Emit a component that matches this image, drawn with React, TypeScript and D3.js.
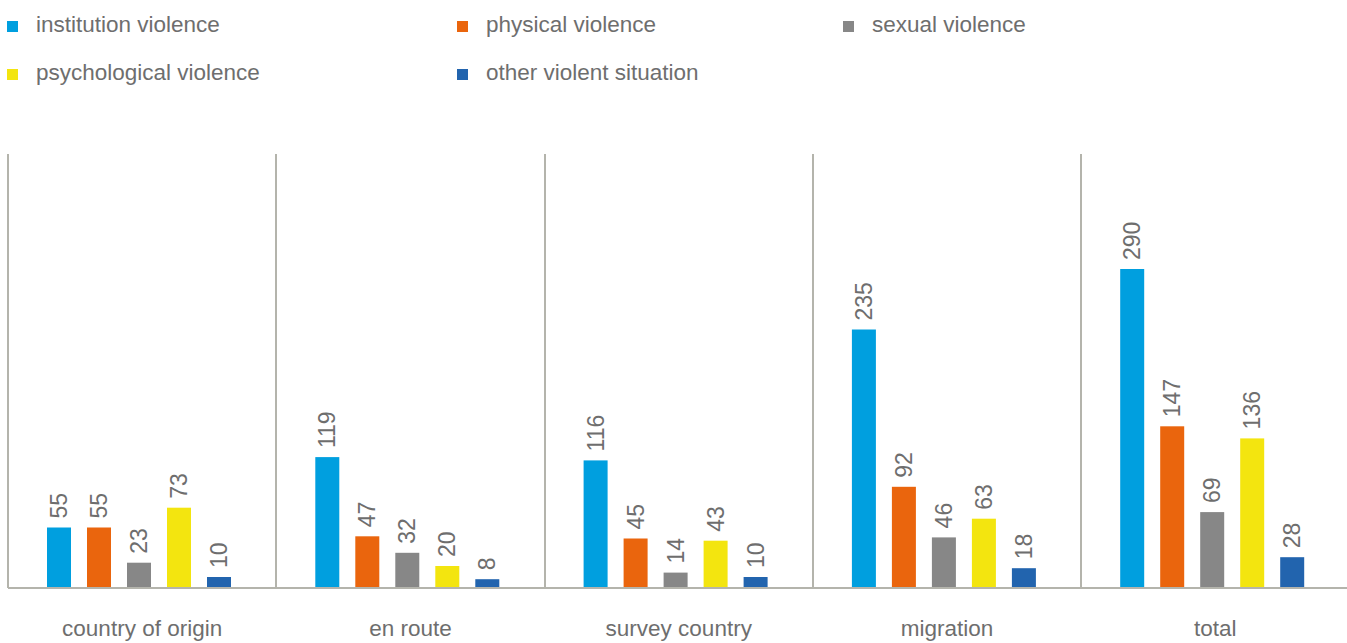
import React, { useEffect, useRef } from 'react'
import * as d3 from 'd3'

const categories = ["country of origin", "en route", "survey country", "migration", "total"]
const seriesNames = ["institution violence", "physical violence", "sexual violence", "psychological violence", "other violent situation"]
const institution = [55, 119, 116, 235, 290]
const physical = [55, 47, 45, 92, 147]
const sexual = [23, 32, 14, 46, 69]
const psychological = [73, 20, 43, 63, 136]
const other = [10, 8, 10, 18, 28]
const colors = ["#009fdf", "#ea650d", "#878787", "#f3e50f", "#2264ae"]

function App() {
    const ref = useRef<SVGSVGElement>(null)

    useEffect(() => {
        const svg = d3.select(ref.current)
        svg.selectAll("*").remove()
        const width = 1347
        const baseY = 588
        const topY = 154
        const groupW = 268.3
        const font = "'Liberation Sans', Arial, sans-serif"
        const textColor = "#6e6e6e"
        const lineColor = "#b4b4ac"

        const seriesValues = [institution, physical, sexual, psychological, other]

        const x0 = d3.scaleBand()
            .domain(categories)
            .range([8, 8 + groupW * categories.length])
            .padding(0)

        const x1 = d3.scaleBand()
            .domain(seriesNames)
            .range([31, 231])
            .paddingInner(0.4)
            .paddingOuter(0.2)

        const y = d3.scaleLinear()
            .domain([0, 300])
            .range([baseY, baseY - 330])

        // legend
        const legendPos = [[7, 32], [457, 32], [843, 32], [7, 80], [457, 80]]
        const legend = svg.append("g")
        seriesNames.forEach((name, i) => {
            const [lx, ly] = legendPos[i]
            legend.append("rect")
                .attr("x", lx)
                .attr("y", ly - 11)
                .attr("width", 11)
                .attr("height", 11)
                .attr("fill", colors[i])
            legend.append("text")
                .attr("x", lx + 29)
                .attr("y", ly)
                .style("font-family", font)
                .style("font-size", "22.5px")
                .attr("fill", textColor)
                .text(name)
        })

        // separators
        svg.append("g")
            .selectAll("line")
            .data(categories)
            .enter()
            .append("line")
            .attr("x1", d => Math.round(x0(d)!))
            .attr("x2", d => Math.round(x0(d)!))
            .attr("y1", topY)
            .attr("y2", baseY)
            .attr("stroke", lineColor)
            .attr("stroke-width", 2)

        svg.append("line")
            .attr("x1", 8)
            .attr("x2", width)
            .attr("y1", baseY)
            .attr("y2", baseY)
            .attr("stroke", lineColor)
            .attr("stroke-width", 2)

        const groups = svg.append("g")
            .selectAll("g")
            .data(categories)
            .enter()
            .append("g")
            .attr("transform", d => "translate(" + x0(d) + ",0)")

        groups.each(function (cat, ci) {
            const g = d3.select(this)
            const rows = seriesNames.map((s, si) => ({ s, v: seriesValues[si][ci], c: colors[si] }))

            g.selectAll("rect")
                .data(rows)
                .enter()
                .append("rect")
                .attr("x", d => x1(d.s)!)
                .attr("width", x1.bandwidth())
                .attr("y", d => y(d.v))
                .attr("height", d => baseY - 1 - y(d.v))
                .attr("fill", d => d.c)

            g.selectAll("text.val")
                .data(rows)
                .enter()
                .append("text")
                .attr("class", "val")
                .attr("transform", d => "translate(" + (x1(d.s)! + x1.bandwidth() / 2) + "," + (y(d.v) - 9) + ") rotate(-90)")
                .attr("dy", "0.35em")
                .style("font-family", font)
                .style("font-size", "23px")
                .attr("fill", textColor)
                .text(d => d.v)

            g.append("text")
                .attr("x", groupW / 2)
                .attr("y", 636)
                .style("text-anchor", "middle")
                .style("font-family", font)
                .style("font-size", "22.5px")
                .attr("fill", textColor)
                .text(cat)
        })
    }, [])

    return (
        <svg ref={ref} width={1347} height={643}
            style={{ position: 'absolute', left: 0, top: 0, background: '#fff' }}></svg>
    )
}

export default App
